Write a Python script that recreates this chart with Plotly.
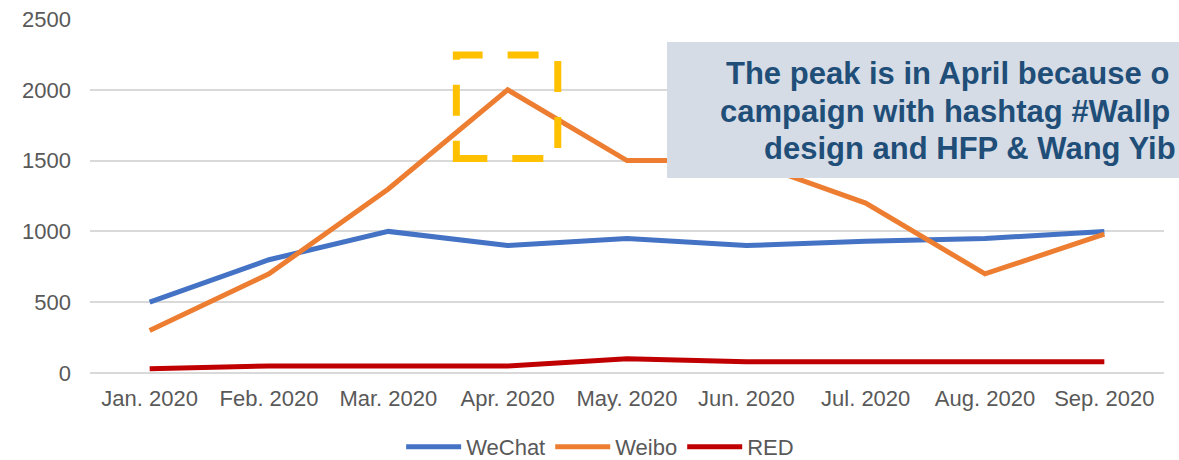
import plotly.graph_objects as go

months = ["Jan. 2020", "Feb. 2020", "Mar. 2020", "Apr. 2020", "May. 2020",
          "Jun. 2020", "Jul. 2020", "Aug. 2020", "Sep. 2020"]
wechat = [500, 800, 1000, 900, 950, 900, 930, 950, 1000]
weibo = [300, 700, 1300, 2000, 1500, 1500, 1200, 700, 980]
red = [30, 50, 50, 50, 100, 80, 80, 80, 80]
y_ticks = [0, 500, 1000, 1500, 2000, 2500]

# callout text as visible in the (cropped) reference
note_lines = ["The peak is in April because o",
              "campaign with hashtag #Wallp",
              "design and HFP & Wang Yib"]

W, H = 1179, 460
ML, MR, MT, MB = 90, 15, 19, 87
PW, PH = W - ML - MR, H - MT - MB

def px_x(p):
    return (p - ML) / PW

def px_y(p):
    return (H - MB - p) / PH

fig = go.Figure()
fig.add_trace(go.Scatter(x=months, y=wechat, name="WeChat", mode="lines",
                         line=dict(color="#4472C4", width=5)))
fig.add_trace(go.Scatter(x=months, y=weibo, name="Weibo", mode="lines",
                         line=dict(color="#ED7D31", width=5)))
fig.add_trace(go.Scatter(x=months, y=red, name="RED", mode="lines",
                         line=dict(color="#C00000", width=5)))

# dashed highlight around April peak
fig.add_shape(type="rect", xref="x", yref="y", x0=2.57, x1=3.42, y0=1515, y1=2245,
              line=dict(color="#FFC000", width=7, dash="31px,25px"),
              fillcolor="rgba(0,0,0,0)", layer="above")

# callout box
fig.add_shape(type="rect", xref="paper", yref="paper",
              x0=px_x(667), x1=px_x(1260), y0=px_y(178), y1=px_y(42),
              line=dict(width=0), fillcolor="#D6DCE5", layer="above")

lefts = [724, 718, 762]
centers = [73, 111, 149]
for txt, lx, cy in zip(note_lines, lefts, centers):
    fig.add_annotation(text="<b>" + txt + "</b>", xref="paper", yref="paper",
                       x=px_x(lx), y=px_y(cy), xanchor="left", yanchor="middle",
                       showarrow=False,
                       font=dict(family="Liberation Sans, Arial", size=31, color="#1F4E79"))

fig.update_layout(
    width=W, height=H,
    margin=dict(l=ML, r=MR, t=MT, b=MB, autoexpand=False),
    paper_bgcolor="white", plot_bgcolor="white",
    font=dict(family="Liberation Sans, Arial", size=22, color="#595959"),
    showlegend=True,
    legend=dict(orientation="h", x=0.475, xanchor="center", y=px_y(447), yanchor="middle",
                font=dict(size=22, color="#595959"), itemwidth=55,
                bgcolor="rgba(0,0,0,0)"),
    xaxis=dict(type="category", showgrid=False, zeroline=False, showline=False,
               ticks="", ticklabelstandoff=10, range=[-0.5, 8.5],
               tickfont=dict(size=22, color="#595959")),
    yaxis=dict(range=[0, 2500], tickvals=y_ticks, showgrid=True,
               gridcolor="#D9D9D9", gridwidth=1.5, zeroline=True,
               zerolinecolor="#D9D9D9", zerolinewidth=2, showline=False,
               ticks="", ticklabelstandoff=18,
               tickfont=dict(size=22, color="#595959")),
)

fig.write_html("out.html")
